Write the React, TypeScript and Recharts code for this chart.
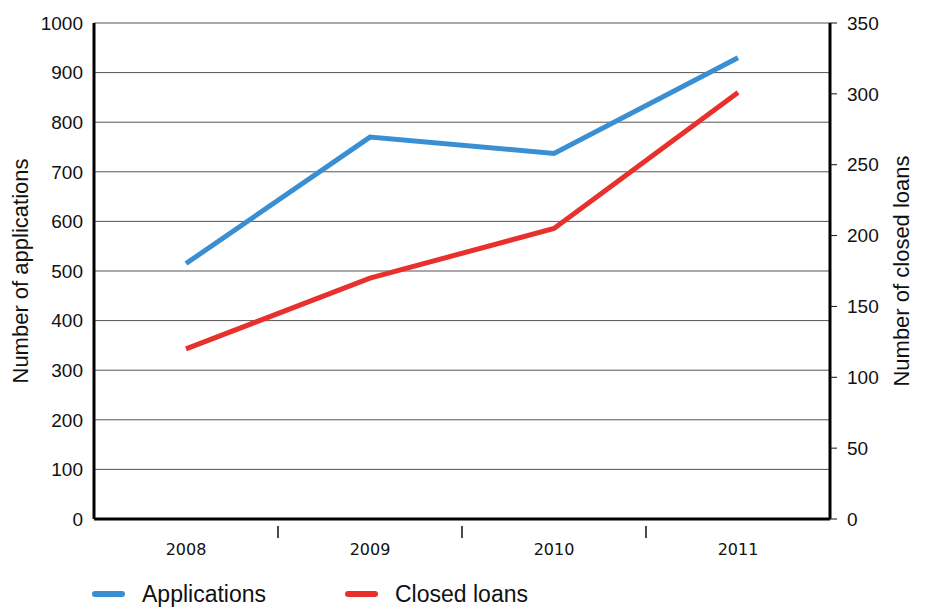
import { CartesianGrid, Legend, Line, LineChart, XAxis, YAxis } from "recharts";
import { type JSX } from "react";

const years: string[] = ["2008", "2009", "2010", "2011"];
const applications: number[] = [515, 770, 737, 930];
const closedLoans: number[] = [120, 170, 205, 301];
const leftTicks: number[] = [0, 100, 200, 300, 400, 500, 600, 700, 800, 900, 1000];
const rightTicks: number[] = [0, 50, 100, 150, 200, 250, 300, 350];

const data = years.map((year, i) => ({
  year,
  applications: applications[i],
  closedLoans: closedLoans[i],
}));

const FONT = '"Liberation Sans", Arial, sans-serif';

const YearTick = (props: any) => {
  const { x, y, payload, index, visibleTicksCount } = props;
  const half = payload?.offset ?? 0;
  return (
    <g>
      <text
        x={x}
        y={y + 28}
        textAnchor="middle"
        fontFamily='"DejaVu Sans", Verdana, sans-serif'
        fontSize={16}
        fill="#111"
      >
        {payload.value}
      </text>
      {index < (visibleTicksCount ?? years.length) - 1 && (
        <line x1={x + half} x2={x + half} y1={y - 1} y2={y + 11} stroke="#111" strokeWidth={1.5} />
      )}
    </g>
  );
};

// legend sits flush with the bottom edge, like the original
const renderLegend = ({ payload }: any) => (
  <div style={{ display: "flex", paddingLeft: 92, fontFamily: FONT, fontSize: 23, color: "#111" }}>
    {payload.map((entry: any) => (
      <div
        key={entry.value}
        style={{ display: "flex", alignItems: "center", width: 253, marginTop: 22, lineHeight: "26px" }}
      >
        <span
          style={{
            display: "inline-block",
            width: 33,
            height: 6,
            borderRadius: 3,
            background: entry.color,
            marginRight: 17,
          }}
        />
        <span>{entry.value}</span>
      </div>
    ))}
  </div>
);

const App = (): JSX.Element => {
  return (
    <div style={{ position: "absolute", left: 0, top: 0, background: "#fff" }}>
      <LineChart width={927} height={609} data={data} margin={{ top: 23, right: 0, bottom: 0, left: 0 }}>
        <CartesianGrid vertical={false} stroke="#555" strokeWidth={1} yAxisId="left" />
        <XAxis
          dataKey="year"
          scale="band"
          height={40}
          axisLine={{ stroke: "#000", strokeWidth: 3 }}
          tickLine={false}
          tick={<YearTick />}
          interval={0}
        />
        <YAxis
          yAxisId="left"
          width={94}
          domain={[0, 1000]}
          ticks={leftTicks}
          interval={0}
          axisLine={{ stroke: "#000", strokeWidth: 3 }}
          tickLine={false}
          tickSize={0}
          tickMargin={11}
          tick={{ fill: "#111", fontSize: 19, fontFamily: FONT }}
          label={{
            value: "Number of applications",
            angle: -90,
            position: "insideLeft",
            offset: 20,
            style: { textAnchor: "middle", fill: "#111", fontSize: 22, fontFamily: FONT },
          }}
        />
        <YAxis
          yAxisId="right"
          orientation="right"
          width={97}
          domain={[0, 350]}
          ticks={rightTicks}
          interval={0}
          axisLine={{ stroke: "#000", strokeWidth: 3 }}
          tickLine={{ stroke: "#111", strokeWidth: 1 }}
          tickSize={7}
          tickMargin={10}
          tick={{ fill: "#111", fontSize: 19, fontFamily: FONT }}
          label={{
            value: "Number of closed loans",
            angle: -90,
            position: "insideRight",
            offset: 26,
            style: { textAnchor: "middle", fill: "#111", fontSize: 22, fontFamily: FONT },
          }}
        />
        <Legend
          verticalAlign="bottom"
          content={renderLegend}
          wrapperStyle={{ left: 0, width: 927, height: 50, bottom: 0 }}
        />
        <Line
          yAxisId="left"
          type="linear"
          dataKey="applications"
          name="Applications"
          stroke="#3a8fd2"
          strokeWidth={5}
          dot={false}
          activeDot={false}
          isAnimationActive={false}
        />
        <Line
          yAxisId="right"
          type="linear"
          dataKey="closedLoans"
          name="Closed loans"
          stroke="#e8302d"
          strokeWidth={5}
          dot={false}
          activeDot={false}
          isAnimationActive={false}
        />
      </LineChart>
    </div>
  );
};

export default App;
